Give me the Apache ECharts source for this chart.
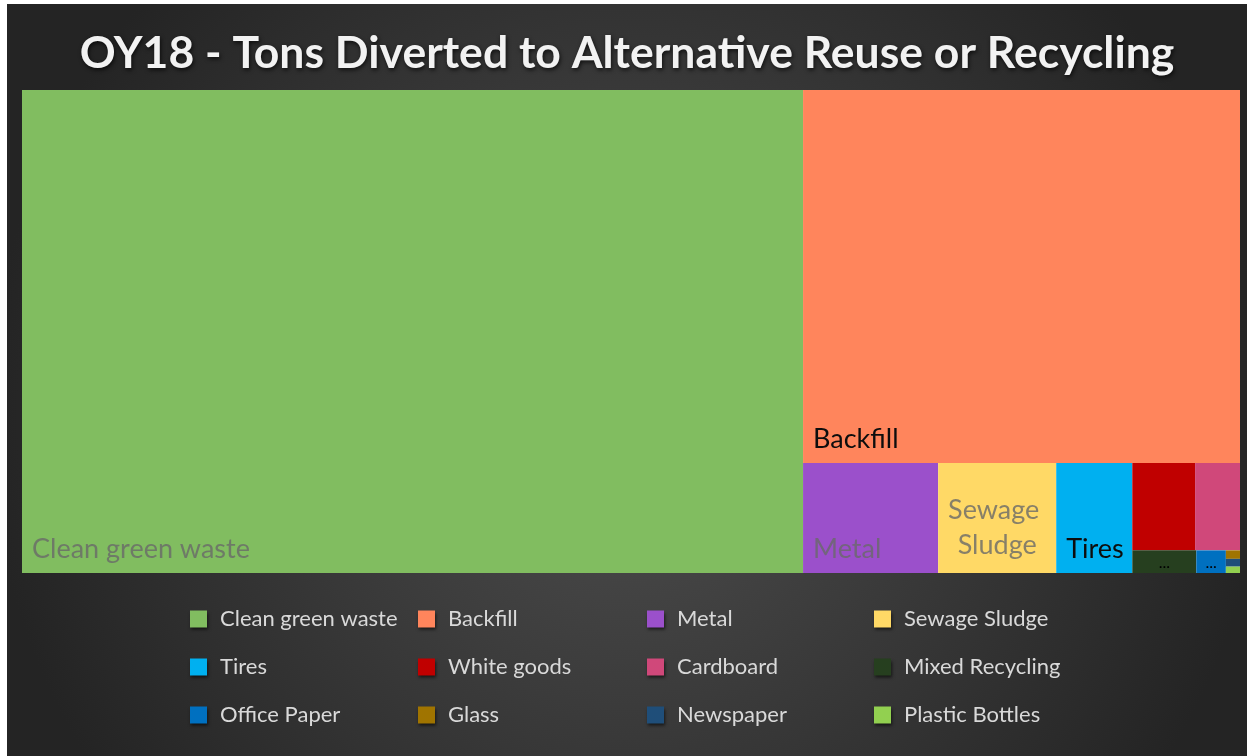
<!DOCTYPE html>
<html>
<head>
<meta charset="utf-8">
<script src="https://cdn.jsdelivr.net/npm/echarts@6/dist/echarts.min.js"></script>
<style>
  html, body { margin: 0; padding: 0; background: #fff; }
  #chart { position: absolute; left: 7px; top: 4px; width: 1240px; height: 752px; }
</style>
</head>
<body>
<div id="chart"></div>
<script>
// OY18 diverted tonnage
const categories = [
  "Clean green waste", "Backfill", "Metal", "Sewage Sludge",
  "Tires", "White goods", "Cardboard", "Mixed Recycling",
  "Office Paper", "Glass", "Newspaper", "Plastic Bottles",
];
const tons = [37722, 16300, 1485, 1298, 836, 548, 392, 145, 67, 12, 11, 9];

const colors = [
  "#81bd60", "#ff855c", "#9b50cb", "#ffd966",
  "#00b0f0", "#c00000", "#d0487a", "#263f1f",
  "#0070c0", "#a07400", "#1f4e79", "#92d050",
];

const fadedText = "rgba(105,105,105,0.8)";
const labelStyles = {
  "Clean green waste": { color: fadedText },
  "Backfill": { color: "#0d0d0d" },
  "Metal": { color: fadedText },
  "Sewage Sludge": { color: fadedText, position: "insideBottom", overflow: "break", lineHeight: 35 },
  "Tires": { color: "#0d0d0d" },
  "White goods": { show: false },
  "Cardboard": { show: false },
  "Mixed Recycling": { formatter: "...", position: "insideBottom", color: "#000", fontSize: 16, distance: 2 },
  "Office Paper": { formatter: "...", position: "insideBottom", color: "#000", fontSize: 16, distance: 2 },
  "Glass": { show: false },
  "Newspaper": { show: false },
  "Plastic Bottles": { show: false },
};

const chart = echarts.init(document.getElementById("chart"));

const legendCols = [0, 1, 2, 3].map((c) => categories.filter((_, i) => i % 4 === c));
const legendLeft = [178, 406, 635, 862];

chart.setOption({
  animation: false,
  backgroundColor: {
    type: "radial", x: 0.5, y: 0.55, r: 0.85,
    colorStops: [
      { offset: 0, color: "#4e4e4e" },
      { offset: 1, color: "#242424" },
    ],
  },
  title: {
    text: "OY18 - Tons Diverted to Alternative Reuse or Recycling",
    left: "center",
    top: 22,
    textStyle: {
      color: "#f2f2f2",
      fontFamily: "Lato",
      fontWeight: "bold",
      fontSize: 44.5,
      textShadowColor: "rgba(0,0,0,0.7)",
      textShadowBlur: 4,
      textShadowOffsetX: 1,
      textShadowOffsetY: 2,
    },
  },
  legend: legendCols.map((names, c) => ({
    data: names,
    orient: "vertical",
    left: legendLeft[c],
    top: 598,
    icon: "rect",
    itemWidth: 17,
    itemHeight: 17,
    itemGap: 24,
    selectedMode: false,
    itemStyle: { shadowBlur: 3, shadowColor: "rgba(0,0,0,0.6)", shadowOffsetX: 1, shadowOffsetY: 2 },
    textStyle: { color: "#d9d9d9", fontFamily: "Lato", fontSize: 22, lineHeight: 24, padding: [0, 0, 0, 8] },
  })),
  series: [
    {
      type: "treemap",
      left: 15,
      top: 86,
      width: 1218,
      height: 483,
      roam: false,
      nodeClick: false,
      squareRatio: 1,
      breadcrumb: { show: false },
      itemStyle: { borderWidth: 0, gapWidth: 0 },
      label: {
        show: true,
        position: "insideBottomLeft",
        distance: 10,
        padding: 0,
        fontFamily: "Lato",
        fontSize: 27,
      },
      data: categories.map((name, i) => ({
        name,
        value: tons[i],
        itemStyle: { color: colors[i] },
        label: labelStyles[name],
      })),
    },
    {
      // invisible pie, only feeds the legend its colours
      type: "pie",
      silent: true,
      radius: 0,
      center: [-50, -50],
      label: { show: false },
      labelLine: { show: false },
      data: categories.map((name, i) => ({ name, value: tons[i], itemStyle: { color: colors[i] } })),
    },
  ],
});
</script>
</body>
</html>
